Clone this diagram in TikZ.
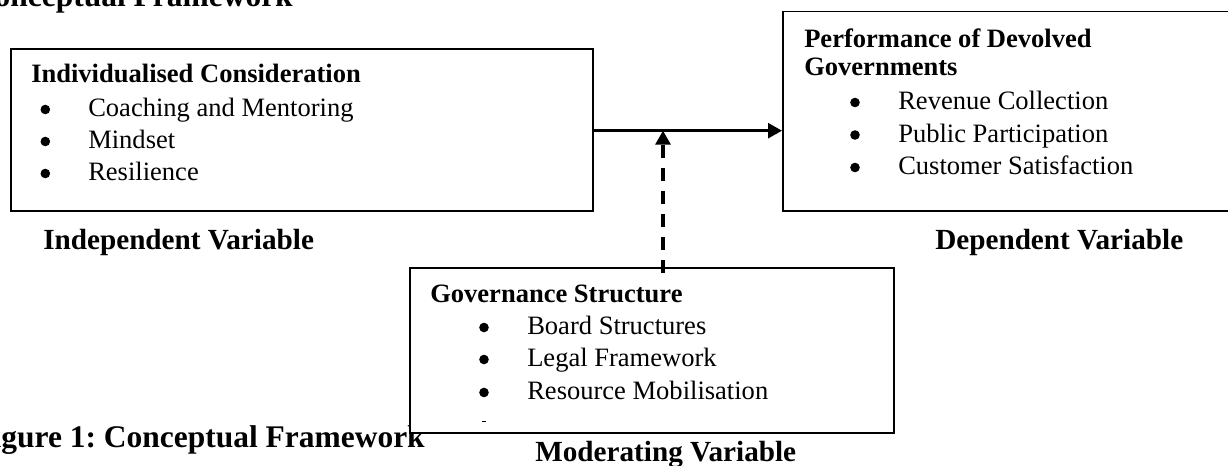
\documentclass[tikz,border=0pt]{standalone}
\usepackage{fontspec}
\setmainfont{Liberation Serif}
\frenchspacing
\usetikzlibrary{arrows.meta,calc}

\tikzset{
  box/.style={draw, line width=1.3pt, fill=white, inner sep=0pt, anchor=north west},
  hd/.style={anchor=base west, inner sep=0pt, font=\fontsize{19.9pt}{24pt}\selectfont\bfseries},
  itm/.style={anchor=base west, inner sep=0pt, font=\fontsize{19.9pt}{24pt}\selectfont},
  bdot/.style={circle, fill, inner sep=0pt, minimum size=7.2pt},
  varlbl/.style={anchor=base west, inner sep=0pt, font=\fontsize{21.9pt}{26pt}\selectfont\bfseries},
  pagehead/.style={anchor=base east, inner sep=0pt, font=\fontsize{23.6pt}{28pt}\selectfont\bfseries},
  link/.style={line width=2pt, -{Triangle[length=10.5pt,width=11.25pt]}},
  modlink/.style={line width=2.3pt, dash pattern=on 9.75pt off 7.5pt,
    -{Triangle[length=10.5pt,width=11.25pt]}},
}

\begin{document}
\begin{tikzpicture}[x=0.75pt, y=-0.75pt]
  \useasboundingbox (0,0) rectangle (1228,466);
  \clip (0,0) rectangle (1228,466);

  % page title and figure caption
  \node[pagehead] (title) at (293,7) {Conceptual Framework};
  \node[pagehead] (caption) at (425,447) {Figure 1: Conceptual Framework};

  % independent variable
  \node[box, minimum width=436.5pt, minimum height=121.5pt] (ivb) at (10,48) {};
  \node[hd] (ivh) at (31,83) {Individualised Consideration};
  \node[bdot] (ivb1) at (45.3,109.5) {};
  \node[itm] (ivt1) at (88,117) {Coaching and Mentoring};
  \node[bdot] (ivb2) at (45.3,141.5) {};
  \node[itm] (ivt2) at (88,149) {Mindset};
  \node[bdot] (ivb3) at (45.3,173.5) {};
  \node[itm] (ivt3) at (88,181) {Resilience};
  \node[varlbl] (ivl) at (43,250) {Independent Variable};

  % dependent variable
  \node[box, minimum width=339.75pt, minimum height=149.5pt] (dvb) at (782,10.7) {};
  \node[hd] (dvh1) at (804,47.5) {Performance of Devolved};
  \node[hd] (dvh2) at (804,76) {Governments};
  \node[bdot] (dvb1) at (855,102.5) {};
  \node[itm] (dvt1) at (898,110) {Revenue Collection};
  \node[bdot] (dvb2) at (855,135) {};
  \node[itm] (dvt2) at (898,142.5) {Public Participation};
  \node[bdot] (dvb3) at (855,167.5) {};
  \node[itm] (dvt3) at (898,175) {Customer Satisfaction};
  \node[varlbl] (dvl) at (935,250) {Dependent Variable};

  % moderating variable
  \node[box, minimum width=363pt, minimum height=123.75pt] (mdb) at (409,267) {};
  \node[hd] (mdh) at (430,303) {Governance Structure};
  \node[bdot] (mdb1) at (484,327.5) {};
  \node[itm] (mdt1) at (527,335) {Board Structures};
  \node[bdot] (mdb2) at (484,359.5) {};
  \node[itm] (mdt2) at (527,367) {Legal Framework};
  \node[bdot] (mdb3) at (484,392.5) {};
  \node[itm] (mdt3) at (527,400) {Resource Mobilisation};
  \draw[line width=1pt] (482,421.5) -- (486,421.5);
  \node[varlbl] (mdl) at (535,461) {Moderating Variable};

  % connectors
  \coordinate (jn) at (663,130.7);
  \draw[link] (ivb.east |- jn) -- (dvb.west |- jn);
  \draw[modlink] ($(jn |- mdb.north)+(0,6)$) -- (jn);
\end{tikzpicture}
\end{document}
